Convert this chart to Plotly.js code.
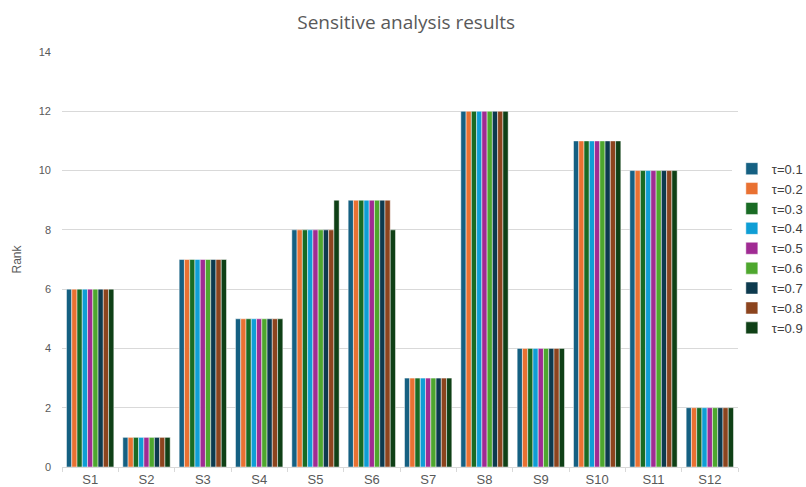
<!DOCTYPE html>
<html><head><meta charset="utf-8">
<script src="https://cdn.plot.ly/plotly-3.0.1.min.js"></script>
<style>body{margin:0;background:#fff}#c{width:806px;height:487px}</style>
</head><body><div id="c"></div>
<script>
const categories = ["S1","S2","S3","S4","S5","S6","S7","S8","S9","S10","S11","S12"];
const seriesNames = ["τ=0.1","τ=0.2","τ=0.3","τ=0.4","τ=0.5","τ=0.6","τ=0.7","τ=0.8","τ=0.9"];
const rank01 = [6,1,7,5,8,9,3,12,4,11,10,2];
const rank02 = [6,1,7,5,8,9,3,12,4,11,10,2];
const rank03 = [6,1,7,5,8,9,3,12,4,11,10,2];
const rank04 = [6,1,7,5,8,9,3,12,4,11,10,2];
const rank05 = [6,1,7,5,8,9,3,12,4,11,10,2];
const rank06 = [6,1,7,5,8,9,3,12,4,11,10,2];
const rank07 = [6,1,7,5,8,9,3,12,4,11,10,2];
const rank08 = [6,1,7,5,8,9,3,12,4,11,10,2];
const rank09 = [6,1,7,5,9,8,3,12,4,11,10,2];
const allRanks = [rank01,rank02,rank03,rank04,rank05,rank06,rank07,rank08,rank09];
const colors = ["#156082","#E97132","#196B24","#0F9ED5","#A02B93","#4EA72E","#0D3A4E","#8C441E","#0F4016"];

const traces = allRanks.map((r,i)=>({
  type:"bar", x:categories, y:r, name:seriesNames[i], legendgroup:"g"+i,
  marker:{color:colors[i], line:{color:"rgba(255,255,255,0.8)", width:0.6}}
}));

const layout = {
  width:806, height:487,
  margin:{l:62, r:68, t:52, b:20, autoexpand:false},
  paper_bgcolor:"#fff", plot_bgcolor:"#fff",
  barmode:"group", bargap:0.16, bargroupgap:0,
  title:{text:"Sensitive analysis results", x:0.504, xref:"container", xanchor:"center",
    y:0.955, yref:"container", yanchor:"middle",
    font:{family:"Open Sans, sans-serif", size:19, color:"#595959"}},
  font:{family:"Liberation Sans, Arial, sans-serif", color:"#595959"},
  xaxis:{showline:true, linecolor:"#d9d9d9", linewidth:1, ticks:"outside", tickson:"boundaries",
    ticklen:4, tickcolor:"#d9d9d9", tickfont:{size:13, color:"#595959"}, fixedrange:true},
  yaxis:{range:[0,14], dtick:2, showgrid:true, gridcolor:"#d9d9d9", zeroline:false,
    ticks:"", tickfont:{size:11, color:"#595959"}, ticklabelstandoff:10,
    title:{text:"Rank", font:{size:12, color:"#595959"}, standoff:14}},
  legend:{xref:"container", x:0.908, xanchor:"left", y:0.526, yanchor:"middle",
    font:{size:13, color:"#404040"},
    tracegroupgap:5.5, itemwidth:30, traceorder:"normal"},
  showlegend:true
};
Plotly.newPlot("c", traces, layout, {displayModeBar:false, staticPlot:true});
</script></body></html>
